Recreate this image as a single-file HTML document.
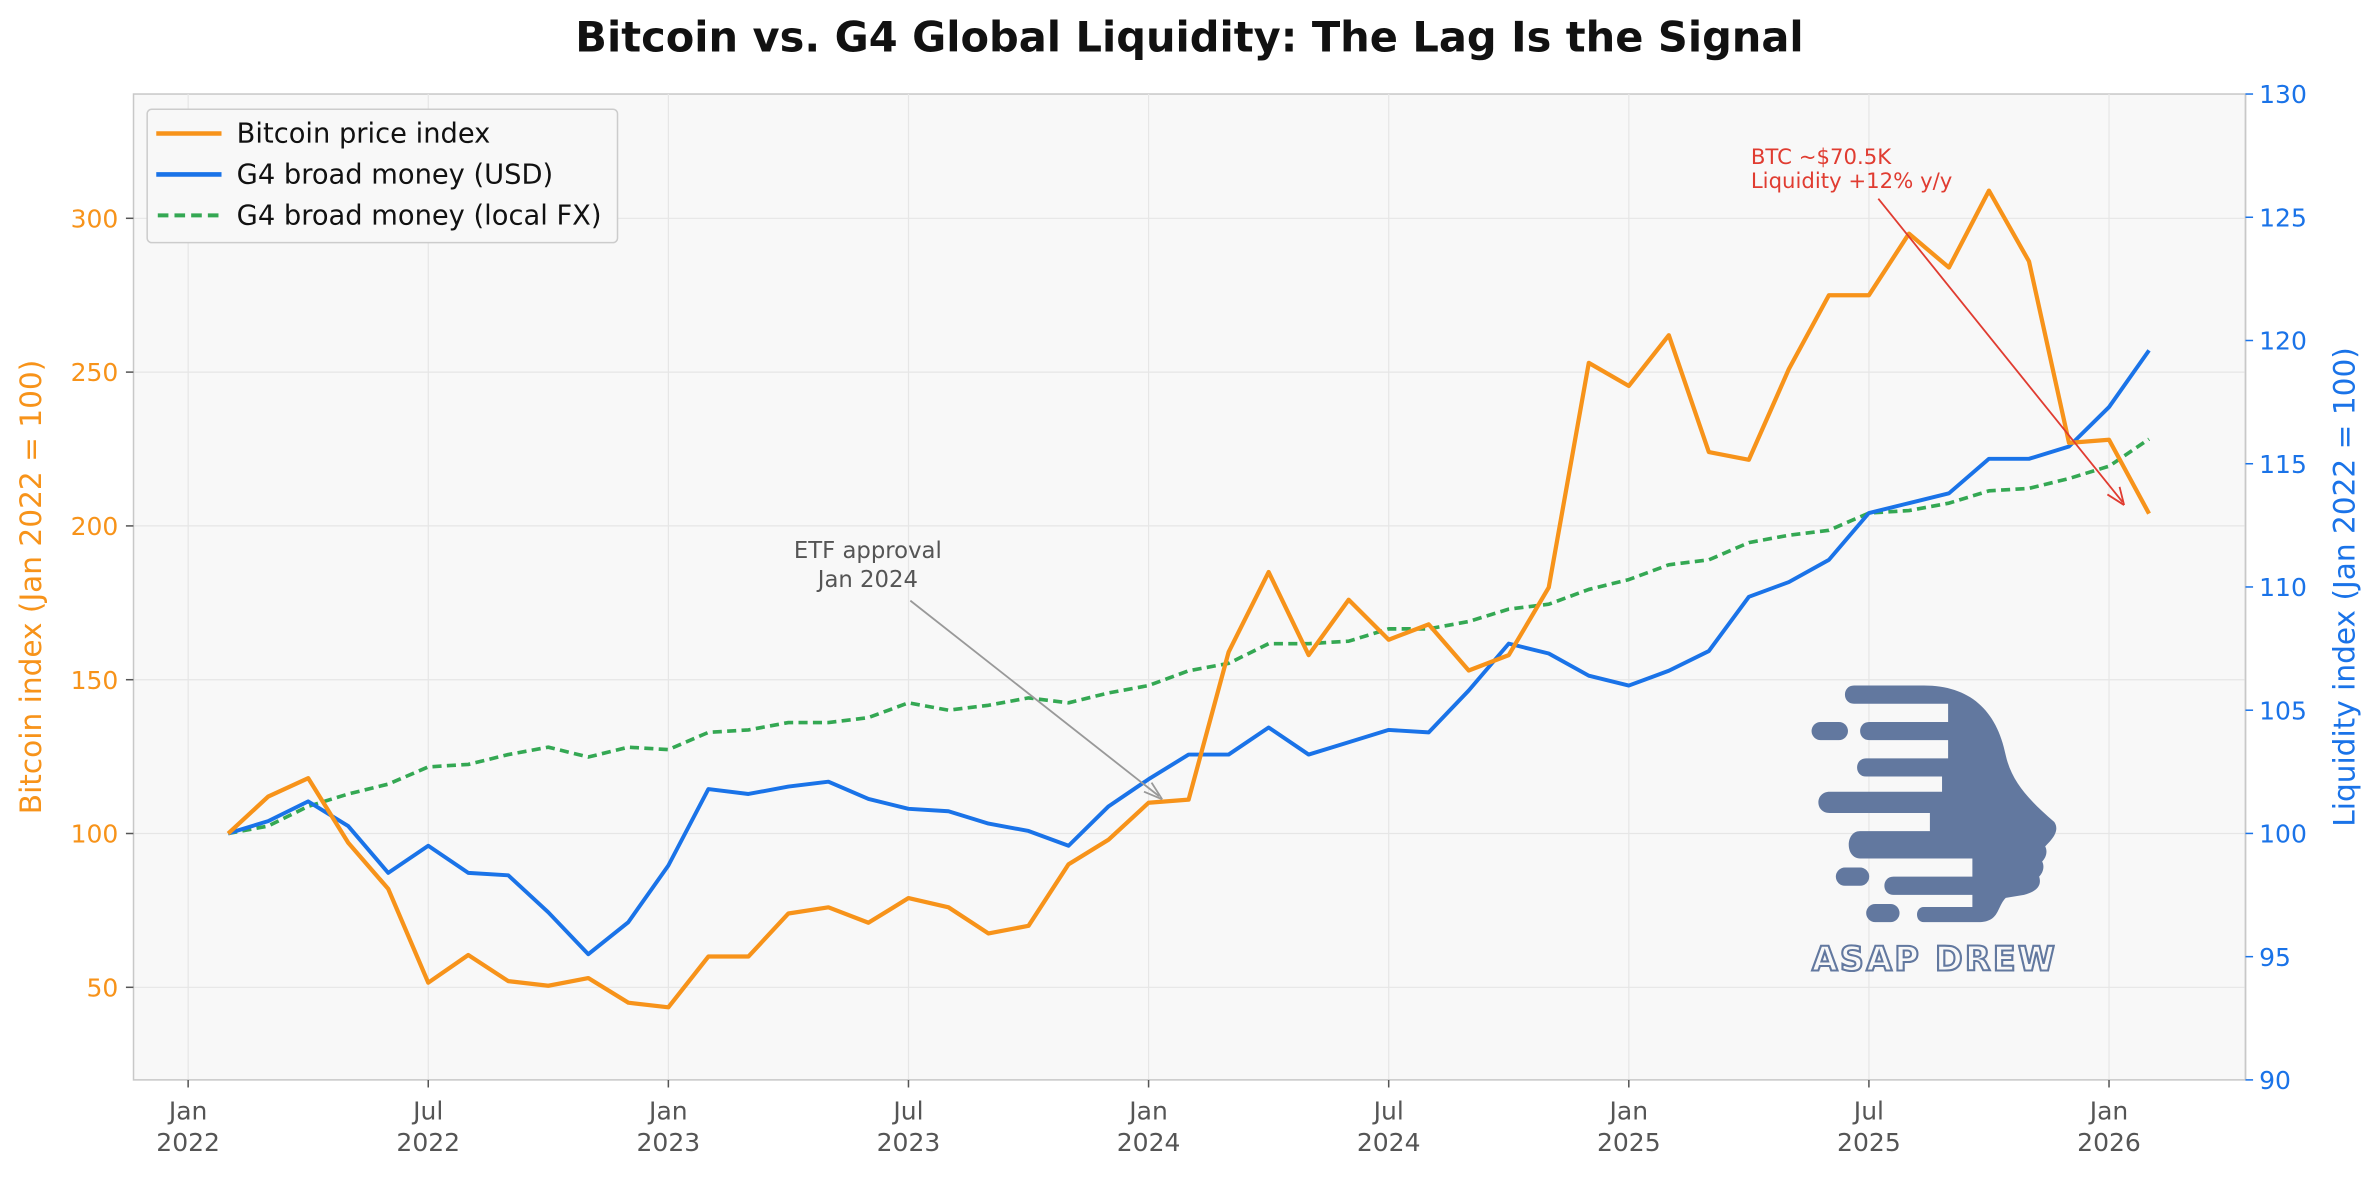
<!DOCTYPE html>
<html><head><meta charset="utf-8"><style>
html,body{margin:0;padding:0;background:#fff}
svg{display:block;font-family:"DejaVu Sans","Liberation Sans",sans-serif}
</style></head><body>
<svg id="chart" width="2379" height="1180" viewBox="0 0 1568 778" preserveAspectRatio="none">
<rect x="0" y="0" width="1568" height="778" fill="#fff"/>
<text x="784" y="34" text-anchor="middle" font-size="27.4" font-weight="bold" fill="#111">Bitcoin vs. G4 Global Liquidity: The Lag Is the Signal</text>
<rect x="88" y="62" width="1392" height="650" fill="#f8f8f8" stroke="#c8c8c8" stroke-width="1"/>
<g id="grid"></g>
<g id="axes"></g>
<g id="logo">
<path fill="#62789f" d="M1222,452 L1268,452 C1298,452 1316,468 1322,498 C1326,516 1338,528 1354,542 C1358,548 1352,554 1348,558 C1350,562 1348,566 1346,568 C1348,572 1346,576 1344,578 C1346,584 1342,588 1334,590 L1322,592 C1316,598 1318,608 1304,608 L1268,608 C1262,608 1262,598 1268,598 L1300,598 L1300,590 L1248,590 C1240,590 1240,578 1248,578 L1300,578 L1300,566 L1226,566 C1216,566 1216,548 1226,548 L1272,548 L1272,536 L1206,536 C1196,536 1196,522 1206,522 L1280,522 L1280,512 L1230,512 C1222,512 1222,500 1230,500 L1284,500 L1284,488 L1232,488 C1224,488 1224,476 1232,476 L1284,476 L1284,464 L1222,464 C1214,464 1214,452 1222,452 Z"/>
<rect x="1194" y="476" width="24" height="12" rx="6" fill="#62789f"/>
<rect x="1210" y="572" width="22" height="12" rx="6" fill="#62789f"/>
<rect x="1230" y="596" width="22" height="12" rx="6" fill="#62789f"/>
<text x="1275" y="640" text-anchor="middle" font-size="22" font-weight="bold" fill="none" stroke="#62789f" stroke-width="1.4" letter-spacing="1.5">ASAP DREW</text>
</g>
<g id="series"></g>
<g id="annotations">
<text x="572" y="368" text-anchor="middle" font-size="15" fill="#555">ETF approval</text>
<text x="572" y="387" text-anchor="middle" font-size="15" fill="#555">Jan 2024</text>
<line x1="600" y1="396" x2="764" y2="525" stroke="#999" stroke-width="1.2"/>
<path d="M766,527 L754,522 M766,527 L759,516" stroke="#999" stroke-width="1.2" fill="none"/>
<text x="1154" y="108" font-size="14" fill="#e03c31">BTC ~$70.5K</text>
<text x="1154" y="124" font-size="14" fill="#e03c31">Liquidity +12% y/y</text>
<line x1="1238" y1="131" x2="1399" y2="331" stroke="#e03c31" stroke-width="1.2"/>
<path d="M1400,333 L1389,326 M1400,333 L1397,321" stroke="#e03c31" stroke-width="1.2" fill="none"/>
</g>
<g id="legend">
<rect x="97" y="72" width="310" height="88" rx="3" fill="#f8f8f8" stroke="#ccc"/>
<line x1="103" y1="88" x2="146" y2="88" stroke="#f7931a" stroke-width="3"/>
<text x="156" y="94" font-size="18" fill="#111">Bitcoin price index</text>
<line x1="103" y1="115" x2="146" y2="115" stroke="#1a73e8" stroke-width="3"/>
<text x="156" y="121" font-size="18" fill="#111">G4 broad money (USD)</text>
<line x1="104" y1="142" x2="146" y2="142" stroke="#34a853" stroke-width="2.6" stroke-dasharray="7,4"/>
<text x="156" y="148" font-size="18" fill="#111">G4 broad money (local FX)</text>
</g>
<text transform="translate(27,387) rotate(-90)" text-anchor="middle" font-size="19.5" fill="#f7931a">Bitcoin index (Jan 2022 = 100)</text>
<text transform="translate(1552,387) rotate(-90)" text-anchor="middle" font-size="19.5" fill="#1a73e8">Liquidity index (Jan 2022 = 100)</text>
</svg>
<script>
const months = [1,2,3,4,5,6,7,8,9,10,11,12,13,14,15,16,17,18,19,20,21,22,23,24,25,26,27,28,29,30,31,32,33,34,35,36,37,38,39,40,41,42,43,44,45,46,47,48,49];
const btcIndex = [100,112,118,97,82,51.5,60.5,52,50.5,53,45,43.5,60,60,74,76,71,79,76,67.5,70,90,98,110,111,159,185,158,176,163,168,153,158,180,253,245.5,262,224,221.5,251,275,275,295,284,309,286,227,228,204];
const usdLiquidity = [100,100.5,101.3,100.3,98.4,99.5,98.4,98.3,96.8,95.1,96.4,98.7,101.8,101.6,101.9,102.1,101.4,101.0,100.9,100.4,100.1,99.5,101.1,102.2,103.2,103.2,104.3,103.2,103.7,104.2,104.1,105.8,107.7,107.3,106.4,106.0,106.6,107.4,109.6,110.2,111.1,113.0,113.4,113.8,115.2,115.2,115.7,117.3,119.6];
const localFxLiquidity = [100,100.3,101.1,101.6,102.0,102.7,102.8,103.2,103.5,103.1,103.5,103.4,104.1,104.2,104.5,104.5,104.7,105.3,105.0,105.2,105.5,105.3,105.7,106.0,106.6,106.9,107.7,107.7,107.8,108.3,108.3,108.6,109.1,109.3,109.9,110.3,110.9,111.1,111.8,112.1,112.3,113.0,113.1,113.4,113.9,114.0,114.4,114.9,116.0];
const leftTicks = [50,100,150,200,250,300];
const rightTicks = [90,95,100,105,110,115,120,125,130];
const xTickMonths = [0,6,12,18,24,30,36,42,48];
const xTickLabels = [["Jan","2022"],["Jul","2022"],["Jan","2023"],["Jul","2023"],["Jan","2024"],["Jul","2024"],["Jan","2025"],["Jul","2025"],["Jan","2026"]];

const L=88,R=1480,T=62,B=712;
const xMin=-1.365,xMax=51.41, lMin=19.9,lMax=340.4, rMin=90,rMax=130;
const x=m=>L+(m-xMin)/(xMax-xMin)*(R-L);
const yL=v=>B-(v-lMin)/(lMax-lMin)*(B-T);
const yR=v=>B-(v-rMin)/(rMax-rMin)*(B-T);
const NS="http://www.w3.org/2000/svg";
function mk(tag,attrs,parent,text){const e=document.createElementNS(NS,tag);for(const k in attrs)e.setAttribute(k,attrs[k]);if(text!==undefined)e.textContent=text;parent.appendChild(e);return e;}
const grid=document.getElementById('grid'),axes=document.getElementById('axes'),series=document.getElementById('series');
xTickMonths.forEach((m,i)=>{
  const px=x(m);
  mk('line',{x1:px,x2:px,y1:T,y2:B,stroke:'#e6e6e6','stroke-width':0.8},grid);
  mk('line',{x1:px,x2:px,y1:B,y2:B+5,stroke:'#555'},axes);
  const t1=mk('text',{x:px,y:B+26,'text-anchor':'middle','font-size':16.5,fill:'#555'},axes,xTickLabels[i][0]);
  
  
  const t2=mk('text',{x:px,y:B+47,'text-anchor':'middle','font-size':16.5,fill:'#555'},axes,xTickLabels[i][1]);
  
  
});
leftTicks.forEach(v=>{
  const py=yL(v);
  mk('line',{x1:L,x2:R,y1:py,y2:py,stroke:'#e6e6e6','stroke-width':0.8},grid);
  mk('line',{x1:L-5,x2:L,y1:py,y2:py,stroke:'#555'},axes);
  const t=mk('text',{x:L-10,y:py+6,'text-anchor':'end','font-size':16.5,fill:'#f7931a'},axes,String(v));
  
  
});
mk('line',{x1:R,x2:R,y1:T,y2:B,stroke:'#c8c8c8','stroke-width':1},axes);
rightTicks.forEach(v=>{
  const py=yR(v);
  mk('line',{x1:R,x2:R+5,y1:py,y2:py,stroke:'#1a73e8'},axes);
  const t=mk('text',{x:R+9,y:py+6,'font-size':16.5,fill:'#1a73e8'},axes,String(v));
  
  
});
function line(vals,yf,attrs,name){
  const d=vals.map((v,i)=>(i?'L':'M')+x(months[i]).toFixed(2)+','+yf(v).toFixed(2)).join(' ');
  const p=mk('path',Object.assign({d:d,fill:'none','stroke-linejoin':'round'},attrs),series);
  
  
}
line(localFxLiquidity,yR,{stroke:'#34a853','stroke-width':2.4,'stroke-dasharray':'6,3.5'},'local-fx-liquidity-line');
line(usdLiquidity,yR,{stroke:'#1a73e8','stroke-width':2.6},'usd-liquidity-line');
line(btcIndex,yL,{stroke:'#f7931a','stroke-width':2.8},'bitcoin-line');
</script>
</body></html>
